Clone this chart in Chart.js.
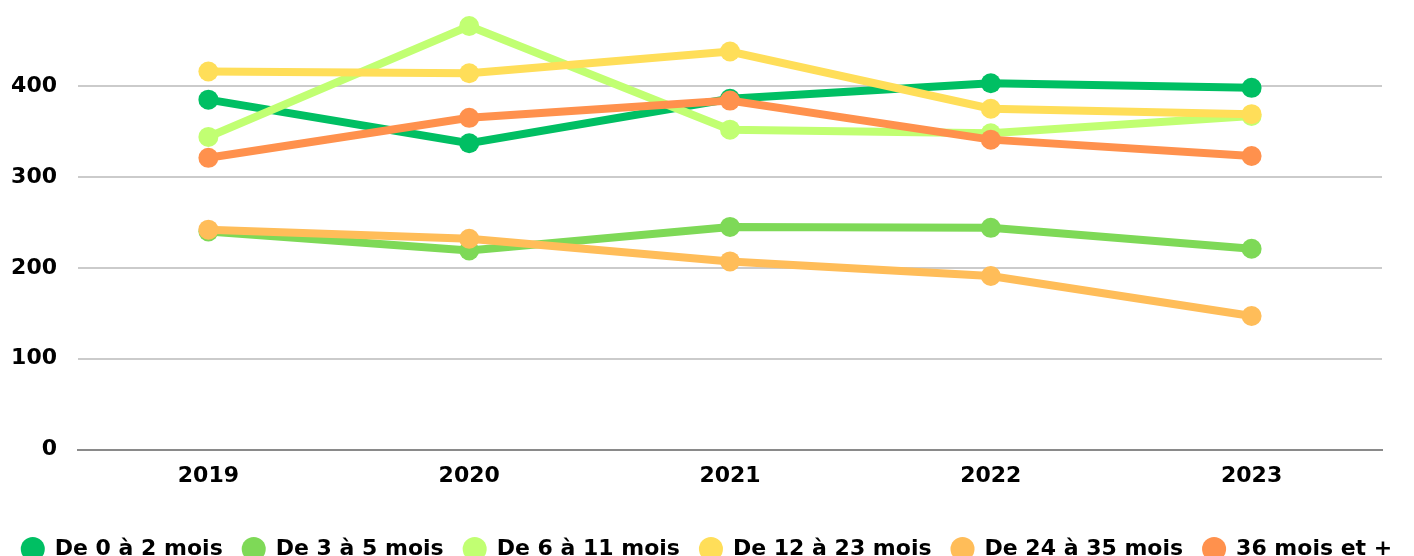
<!DOCTYPE html>
<html>
<head>
<meta charset="utf-8">
<script src="https://cdn.jsdelivr.net/npm/chart.js@4.4.1/dist/chart.umd.min.js"></script>
<style>
    html, body { margin: 0; padding: 0; background: #fff; overflow: hidden; }
    #wrap { position: relative; width: 1414px; height: 570px; }
</style>
</head>
<body>
<div id="wrap"><canvas id="graficoMois"></canvas></div>
<script>
// Années
const annees = ["2019", "2020", "2021", "2022", "2023"];

// Valeurs par tranche d'âge
const mois0a2 = [385, 337, 386, 403, 398];
const mois3a5 = [240, 219, 245, 244, 221];
const mois6a11 = [344, 466, 352, 348, 367];
const mois12a23 = [416, 414, 438, 375, 369];
const mois24a35 = [242, 232, 207, 191, 147];
const mois36plus = [321, 365, 384, 341, 323];

const libelles = ["De 0 à 2 mois", "De 3 à 5 mois", "De 6 à 11 mois", "De 12 à 23 mois", "De 24 à 35 mois", "36 mois et +"];
const series = [mois0a2, mois3a5, mois6a11, mois12a23, mois24a35, mois36plus];
const couleurs = ["#00BF63", "#7ED957", "#C1FF72", "#FFDE59", "#FFBD59", "#FF914D"];

const ticksY = [0, 100, 200, 300, 400];

document.addEventListener("DOMContentLoaded", function () {
    const ctx = document.getElementById("graficoMois");

    new Chart(ctx, {
        type: "line",
        data: {
            labels: annees,
            datasets: series.map((valeurs, i) => ({
                label: libelles[i],
                data: valeurs,
                borderColor: couleurs[i],
                backgroundColor: couleurs[i],
                borderWidth: 8,
                pointRadius: 10,
                pointBorderWidth: 0,
                pointHoverRadius: 10,
                tension: 0,
                clip: false,
                order: series.length - i, // la dernière série au-dessus
            })),
        },
        options: {
            responsive: true,
            maintainAspectRatio: false,
            animation: false,
            layout: { autoPadding: false, padding: 0 },
            plugins: {
                tooltip: { enabled: false },
                legend: {
                    position: "bottom",
                    labels: {
                        usePointStyle: true,
                        pointStyle: "circle",
                        boxWidth: 24,
                        boxHeight: 17,
                        padding: 20,
                        color: "#000",
                        font: { family: "DejaVu Sans", size: 22, weight: "bold" },
                        sort: (a, b) => a.datasetIndex - b.datasetIndex,
                    },
                },
            },
            scales: {
                x: {
                    offset: true,
                    grid: { display: false, drawTicks: false },
                    border: { display: true, color: "#8a8a8a", width: 2 },
                    afterFit: (scale) => { scale.height += 16; },
                    ticks: {
                        color: "#000",
                        padding: 13,
                        font: { family: "DejaVu Sans", size: 22, weight: "bold" },
                    },
                },
                y: {
                    min: 0,
                    max: 457,
                    z: 1,
                    afterBuildTicks: (axis) => {
                        axis.ticks = ticksY.map((v) => ({ value: v }));
                    },
                    afterFit: (scale) => { scale.width = 78; },
                    grid: {
                        drawTicks: false,
                        lineWidth: 2,
                        color: (c) => (c.tick && c.tick.value === 0 ? "rgba(0,0,0,0)" : "rgba(140,140,140,0.45)"),
                    },
                    border: { display: false },
                    ticks: {
                        color: "#000",
                        padding: 21,
                        font: { family: "DejaVu Sans", size: 22, weight: "bold" },
                    },
                },
                // marge droite
                marge: {
                    type: "linear",
                    position: "right",
                    display: true,
                    grid: { display: false, drawTicks: false },
                    border: { display: false },
                    ticks: { display: false },
                    afterFit: (scale) => { scale.width = 32; },
                },
            },
        },
    });
});
</script>
</body>
</html>
